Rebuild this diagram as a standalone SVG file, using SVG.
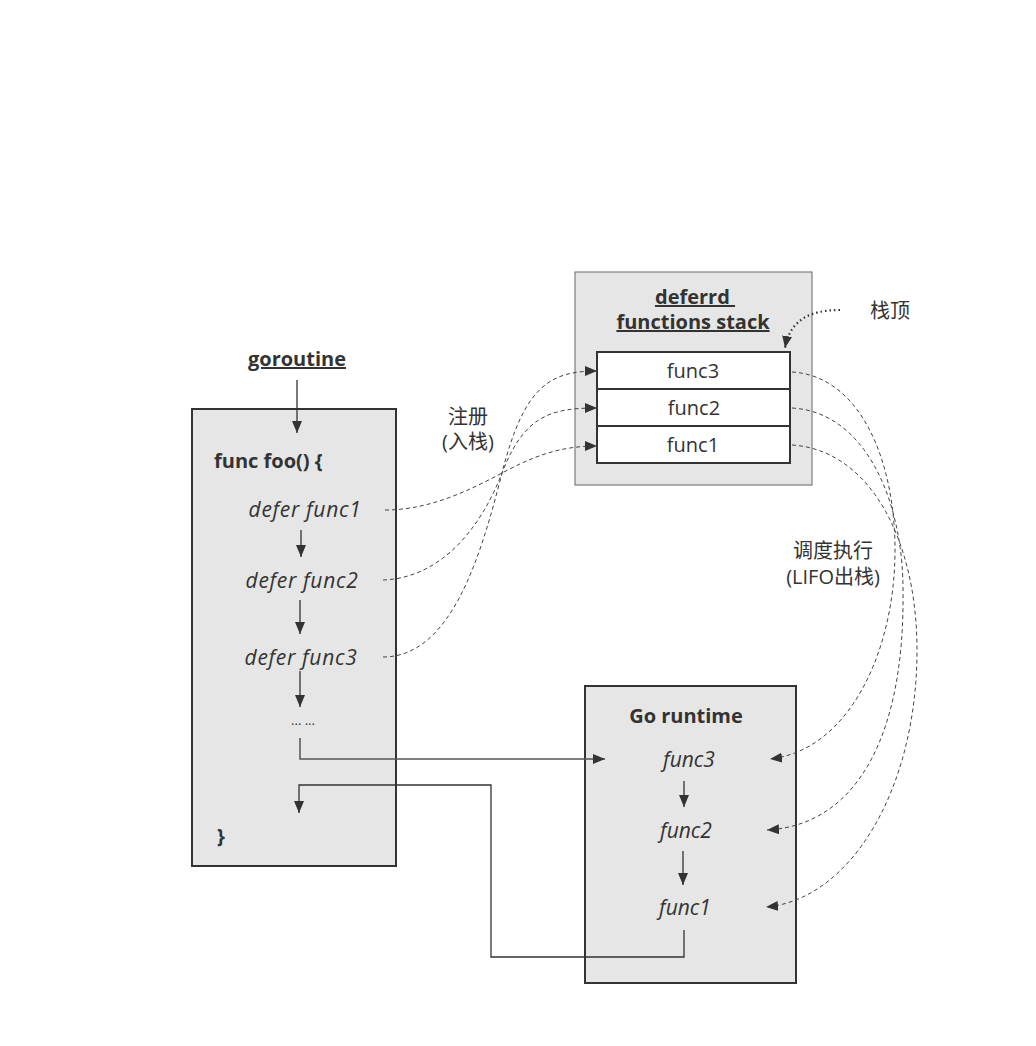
<svg xmlns="http://www.w3.org/2000/svg" width="1036" height="1046" viewBox="0 0 1036 1046">
<style>
text{font-family:"Open Sans","Noto Sans CJK SC",sans-serif;fill:#333;font-size:20px}
.b{font-weight:bold}
.i{font-style:italic;font-size:21px}
.d{letter-spacing:0.7px}
.u{text-decoration:underline}
.m{text-anchor:middle}
.box{fill:#e6e6e6;stroke:#333;stroke-width:2}
.obox{fill:#e6e6e6;stroke:#666;stroke-width:1}
.cell{fill:#fff;stroke:#333;stroke-width:2}
.ln{fill:none;stroke:#333;stroke-width:1.3}
.dash{fill:none;stroke:#444;stroke-width:1;stroke-dasharray:4,3}
</style>
<defs>
<marker id="ah" viewBox="0 0 12 10" refX="12" refY="5" markerWidth="12" markerHeight="10" markerUnits="userSpaceOnUse" orient="auto"><path d="M0,0L12,5L0,10z" fill="#333"/></marker>
</defs>
<rect width="1036" height="1046" fill="#fff"/>
<g id="goroutine-label"><text class="b u m" x="297" y="366">goroutine</text></g>
<g id="foo">
<rect class="box" x="192" y="409" width="204" height="457"/>
<text class="b" x="214" y="468">func foo() {</text>
<text class="i d m" x="305" y="517">defer func1</text>
<text class="i d m" x="302" y="588">defer func2</text>
<text class="i d m" x="301" y="665">defer func3</text>
<text class="m" x="303" y="725" style="font-size:13px">... ...</text>
<text class="b" x="217" y="843">}</text>
</g>
<g id="stack">
<rect class="obox" x="575" y="272" width="237" height="213"/>
<text class="b u m" x="695" y="304">deferrd&#160;</text>
<text class="b u m" x="693" y="329">functions stack</text>
<rect class="cell" x="597" y="352" width="193" height="37"/>
<rect class="cell" x="597" y="389" width="193" height="37"/>
<rect class="cell" x="597" y="426" width="193" height="37"/>
<text class="m" x="693" y="378">func3</text>
<text class="m" x="694" y="415">func2</text>
<text class="m" x="693" y="452">func1</text>
</g>
<g id="stacktop-label"><text x="870" y="318">栈顶</text></g>
<g id="register-label"><text class="m" x="468" y="424">注册</text><text class="m" x="468" y="449">(入栈)</text></g>
<g id="schedule-label"><text class="m" x="833" y="558">调度执行</text><text class="m" x="833" y="584">(LIFO出栈)</text></g>
<g id="runtime">
<rect class="box" x="585" y="686" width="211" height="297"/>
<text class="b m" x="686" y="723">Go runtime</text>
<text class="i m" x="689" y="767">func3</text>
<text class="i m" x="686" y="838">func2</text>
<text class="i m" x="685" y="915">func1</text>
</g>
<g id="connectors">
<path class="ln" d="M297,380V433" marker-end="url(#ah)"/>
<path class="ln" d="M301,530V557" marker-end="url(#ah)"/>
<path class="ln" d="M300,600V634" marker-end="url(#ah)"/>
<path class="ln" d="M300,671V707" marker-end="url(#ah)"/>
<path class="ln" d="M300,738V759H605" marker-end="url(#ah)" style="stroke:#555;stroke-width:1.5"/>
<path class="ln" d="M684,930V957H491V785H299V813" marker-end="url(#ah)"/>
<path class="ln" d="M684,781V807" marker-end="url(#ah)"/>
<path class="ln" d="M683,851V885" marker-end="url(#ah)"/>
<path class="dash" d="M385,510C430,510 470,490 502,473S560,446 597,446" marker-end="url(#ah)"/>
<path class="dash" d="M383,580C440,578 480,530 502,473S550,408 597,408" marker-end="url(#ah)"/>
<path class="dash" d="M383,657C450,657 480,560 502,473S550,371 597,371" marker-end="url(#ah)"/>
<path class="dash" d="M792,372C860,376 895,460 895,550C895,650 850,750 770,759" marker-end="url(#ah)"/>
<path class="dash" d="M792,408C865,412 903,500 903,590C905,730 860,825 767,830" marker-end="url(#ah)"/>
<path class="dash" d="M792,445C870,450 917,540 917,650C917,790 850,900 766,907" marker-end="url(#ah)"/>
<path d="M840,310C810,310 790,320 785,348" fill="none" stroke="#333" stroke-width="2.2" stroke-dasharray="1.5,3" marker-end="url(#ah)"/>
</g>
</svg>
